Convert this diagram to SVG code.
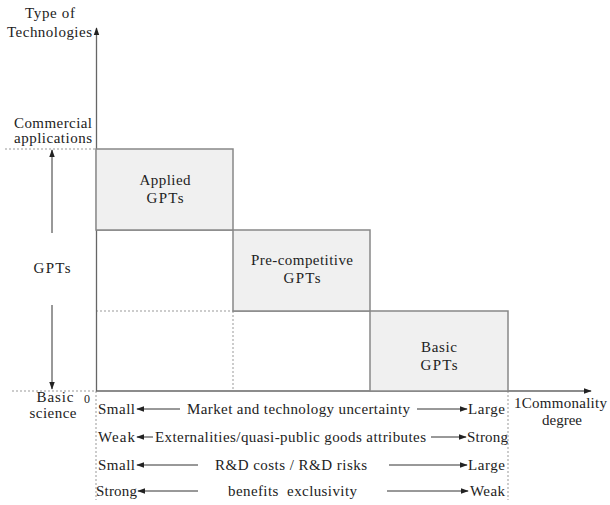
<svg xmlns="http://www.w3.org/2000/svg" width="610" height="505" viewBox="0 0 610 505">
<defs>
<marker id="ah" viewBox="0 0 10 10" refX="9" refY="5" markerWidth="8" markerHeight="8" markerUnits="userSpaceOnUse" orient="auto-start-reverse">
<path d="M0,1.5 L10,5 L0,8.5 z" fill="#222"/>
</marker>
<style>
.c{text-anchor:middle}
.box{fill:#f0f0f0;stroke:#888;stroke-width:1.5}
.ax{stroke:#666;stroke-width:1.3;fill:none}
.dot{stroke:#999;stroke-width:1;stroke-dasharray:2,2;fill:none}
.sol{stroke:#888;stroke-width:1.5;fill:none}
.arr{stroke:#333;stroke-width:1;fill:none;marker-end:url(#ah)}
</style>
</defs>
<rect width="610" height="505" fill="#fff"/>
<g id="connectors">
<line class="dot" x1="5" y1="149" x2="96" y2="149"/>
<line class="dot" x1="12" y1="391" x2="96" y2="391"/>
<line class="dot" x1="96" y1="311" x2="233" y2="311"/>
<line class="dot" x1="233" y1="311" x2="233" y2="391"/>
<line class="dot" x1="96" y1="391" x2="96" y2="500"/>
<line class="dot" x1="508" y1="391" x2="508" y2="500"/>
<line class="sol" x1="96" y1="230" x2="233" y2="230"/>
<line class="sol" x1="233" y1="311" x2="370" y2="311"/>
<line class="ax" x1="96.5" y1="391" x2="96.5" y2="28" style="marker-end:url(#ah)"/>
<line class="ax" x1="96" y1="391" x2="591" y2="391" style="marker-end:url(#ah)"/>
<line class="arr" x1="52" y1="233" x2="52" y2="150"/>
<line class="arr" x1="52" y1="305" x2="52" y2="389"/>
<line class="arr" x1="180" y1="409" x2="137" y2="409"/>
<line class="arr" x1="417" y1="409" x2="467" y2="409"/>
<line class="arr" x1="153" y1="437" x2="137" y2="437"/>
<line class="arr" x1="431" y1="437" x2="466" y2="437"/>
<line class="arr" x1="198" y1="465" x2="137" y2="465"/>
<line class="arr" x1="389" y1="465" x2="467" y2="465"/>
<line class="arr" x1="198" y1="491" x2="138" y2="491"/>
<line class="arr" x1="387" y1="491" x2="468" y2="491"/>
</g>
<g font-family="Liberation Serif, DejaVu Serif, serif" font-size="15" fill="#222">
<g id="applied"><rect class="box" x="96" y="149" width="137" height="81"/>
<text class="c" x="165" y="185" textLength="51">Applied</text><text class="c" x="165" y="203" textLength="37">GPTs</text></g>
<g id="precompetitive"><rect class="box" x="233" y="230" width="137" height="81"/>
<text class="c" x="302" y="265" textLength="102">Pre-competitive</text><text class="c" x="302" y="283" textLength="37">GPTs</text></g>
<g id="basic"><rect class="box" x="370" y="311" width="138" height="80"/>
<text class="c" x="439" y="352" textLength="36">Basic</text><text class="c" x="439" y="370" textLength="37">GPTs</text></g>
<g id="labels">
<text class="c" x="50" y="18" textLength="50">Type of</text>
<text class="c" x="49.5" y="37" textLength="85">Technologies</text>
<text class="c" x="53" y="128" textLength="78">Commercial</text>
<text class="c" x="53" y="143" textLength="78">applications</text>
<text class="c" x="52" y="273" textLength="37">GPTs</text>
<text class="c" x="55" y="402" textLength="37">Basic</text>
<text class="c" x="53" y="418" textLength="47">science</text>
<text x="84" y="403" font-size="12">0</text>
<text x="514" y="408" textLength="93">1Commonality</text>
<text class="c" x="562" y="425" textLength="40">degree</text>
<text x="98" y="414" textLength="37">Small</text>
<text x="187" y="414" textLength="223">Market and technology uncertainty</text>
<text x="468" y="414" textLength="37">Large</text>
<text x="98" y="442" textLength="37">Weak</text>
<text x="155" y="442" textLength="271">Externalities/quasi-public goods attributes</text>
<text x="467" y="442" textLength="41">Strong</text>
<text x="98" y="470" textLength="37">Small</text>
<text x="215" y="470" textLength="152">R&amp;D costs / R&amp;D risks</text>
<text x="468" y="470" textLength="37">Large</text>
<text x="96" y="496" textLength="41">Strong</text>
<text x="228" y="496" textLength="129" xml:space="preserve">benefits  exclusivity</text>
<text x="470" y="496" textLength="35">Weak</text>
</g>
</g>
</svg>
